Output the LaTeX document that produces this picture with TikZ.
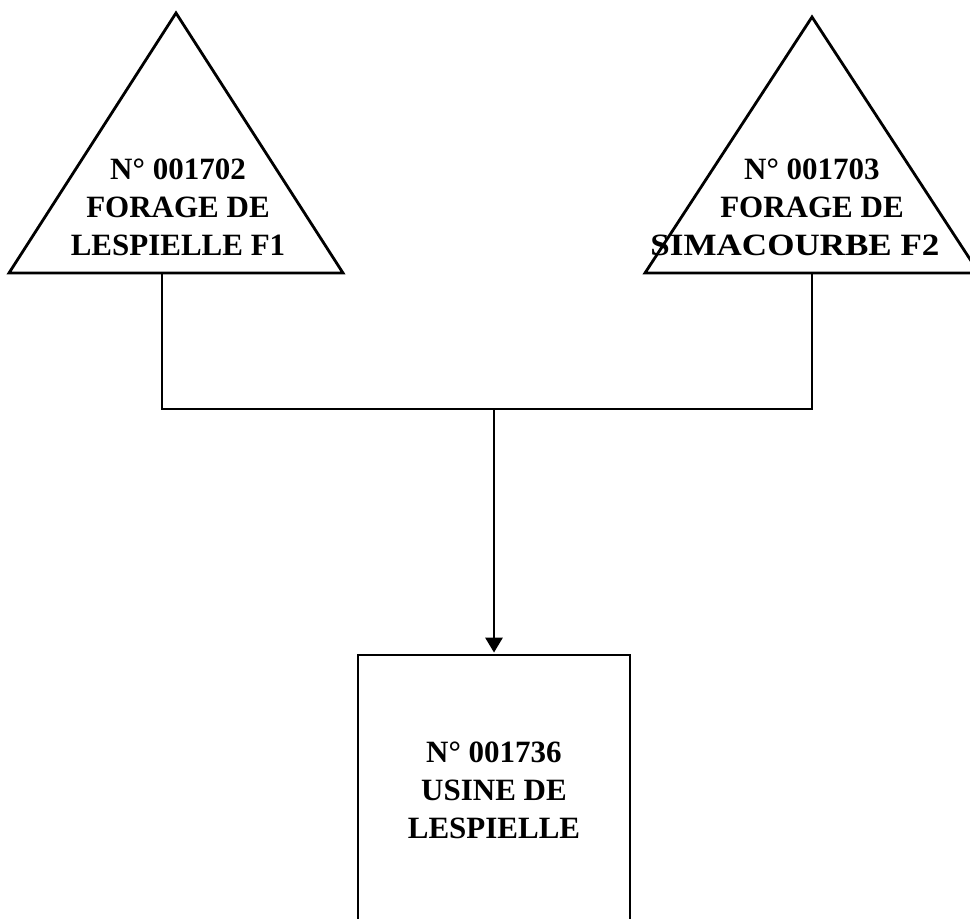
\documentclass[tikz,border=0pt]{standalone}
\usepackage{fontspec}
\setmainfont{Liberation Serif}
\usetikzlibrary{arrows.meta}

\tikzset{
  wire/.style={line width=2.8pt, line join=miter},
  lbl/.style={font=\bfseries\fontsize{31}{38}\selectfont, align=center, inner sep=0pt},
}

\begin{document}
\begin{tikzpicture}[x=1pt, y=1pt]
\useasboundingbox (0,0) rectangle (970,-919);
% forages
\coordinate (tid1a) at (176,-13);
\coordinate (tid1l) at (9,-273);
\coordinate (tid1r) at (343,-273);
\coordinate (tid2a) at (812,-17);
\coordinate (tid2l) at (645,-273);
\coordinate (tid2r) at (979,-273);
\draw[wire] (tid1a) -- (tid1l) -- (tid1r) -- cycle;
\draw[wire] (tid2a) -- (tid2l) -- (tid2r) -- cycle;
\node[lbl] (lbl1) at (178,-207) {N° 001702\\FORAGE DE\\LESPIELLE F1};
\node[lbl] (lbl2) at (812,-207) {N° 001703\\FORAGE DE\\\scalebox{1.13}[1]{SIMACOURBE F2}\hspace*{34pt}};

% usine
\node[draw, wire, lbl, minimum width=272, minimum height=270] (usine) at (494,-790) {N° 001736\\USINE DE\\LESPIELLE};

% liaisons
\coordinate (tid1b) at (162,-273);
\coordinate (tid2b) at (812,-273);
\coordinate (c1) at (162,-409);
\coordinate (c2) at (812,-409);
\coordinate (join) at (494,-409);
\draw[wire] (tid1b) -- (c1) -- (c2) -- (tid2b);
\draw[wire, -{Triangle[width=17pt,length=15pt]}, shorten >=1pt] (join) -- (usine.north);

\end{tikzpicture}
\end{document}
